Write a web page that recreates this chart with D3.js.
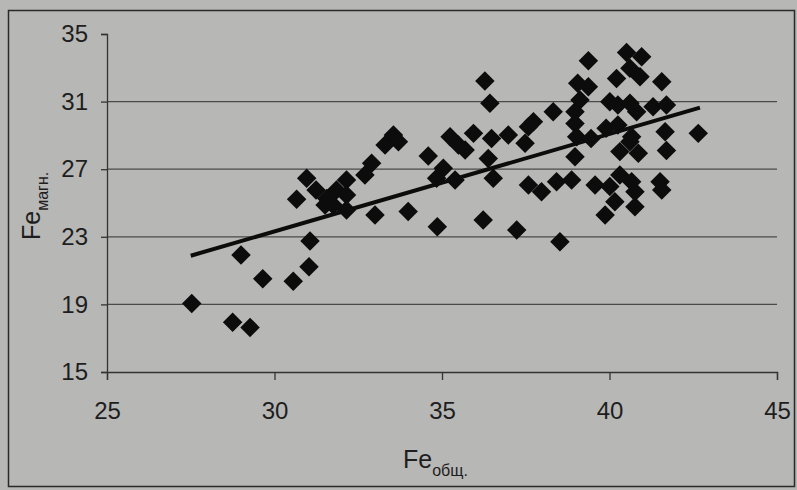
<!DOCTYPE html>
<html>
<head>
<meta charset="utf-8">
<script src="https://cdn.jsdelivr.net/npm/d3@7"></script>
<style>
  body { margin: 0; background: #b7b7b5; }
  svg { display: block; }
  text { font-family: "Liberation Sans", Arial, sans-serif; fill: #1e1e1e; }
</style>
</head>
<body>
<div id="chart"></div>
<script>
// Fe total vs Fe magnetic
var feTotal = [27.53, 28.75, 29.27, 29.0, 29.65, 30.56, 31.03, 31.06, 30.66, 30.96,
  31.24, 31.56, 31.51, 31.85, 32.15, 32.15, 31.75, 32.15, 32.7, 32.9,
  33.3, 33.55, 33.7, 33.0, 33.99, 34.59, 34.86, 35.04, 34.84, 35.39,
  35.24, 35.49, 35.69, 35.94, 36.28, 36.43, 36.48, 36.38, 36.53, 36.23,
  36.98, 37.58, 37.73, 37.48, 37.58, 37.97, 37.23, 38.32, 38.42, 38.87,
  38.52, 38.97, 39.05, 39.37, 39.37, 39.12, 38.97, 38.97, 39.02, 39.45,
  39.57, 39.87, 39.9, 40.01, 40.25, 40.61, 40.81, 41.3, 41.7, 40.25,
  40.66, 41.66, 42.65, 40.21, 40.61, 40.91, 41.56, 40.51, 40.96, 40.31,
  40.86, 41.7, 40.61, 40.31, 40.01, 40.66, 40.76, 40.16, 40.76, 41.51,
  41.56];
var feMagn = [19.06, 17.94, 17.64, 21.92, 20.52, 20.37, 21.23, 22.75, 25.22, 26.46,
  25.77, 25.27, 24.88, 25.77, 26.36, 25.47, 24.88, 24.59, 26.66, 27.35,
  28.43, 29.02, 28.63, 24.29, 24.49, 27.78, 23.6, 27.05, 26.46, 26.36,
  28.92, 28.43, 28.14, 29.12, 32.22, 30.9, 28.82, 27.63, 26.46, 24.0,
  29.02, 29.51, 29.81, 28.53, 26.07, 25.67, 23.4, 30.4, 26.26, 26.36,
  22.71, 27.74, 32.08, 33.42, 31.88, 31.1, 30.4, 29.71, 28.92, 28.82,
  26.07, 24.29, 29.42, 30.99, 30.8, 30.9, 30.4, 30.7, 30.8, 29.62,
  28.92, 29.22, 29.12, 32.37, 32.97, 32.47, 32.18, 33.9, 33.66, 28.04,
  27.94, 28.1, 28.63, 26.66, 25.97, 26.26, 25.67, 25.08, 24.78, 26.26,
  25.77];
var trendX = [27.5, 42.7];
var trendY = [21.88, 30.64];
var xTicks = [25, 30, 35, 40, 45];
var yTicks = [15, 19, 23, 27, 31, 35];

const W = 797, H = 490;
const plotLeft = 107, plotRight = 777, plotTop = 34, plotBottom = 372;

var svg = d3.select('#chart').append('svg')
    .attr('width', W)
    .attr('height', H);

// outer frame of the photographed chart
svg.append('rect')
  .attr('x', 8.5).attr('y', 10.5)
  .attr('width', 786).attr('height', 476)
  .attr('fill', 'none')
  .attr('stroke', '#2a2a2a')
  .attr('stroke-width', 1.5);

var x = d3.scaleLinear().domain([25, 45]).range([plotLeft, plotRight]);
var y = d3.scaleLinear().domain([15, 35]).range([plotBottom, plotTop]);

// horizontal grid
svg.append('g')
  .selectAll('line')
  .data(yTicks.filter(function (d) { return d > 15 && d < 35; }))
  .enter()
  .append('line')
  .attr('x1', plotLeft).attr('x2', plotRight)
  .attr('y1', function (d) { return y(d); })
  .attr('y2', function (d) { return y(d); })
  .attr('stroke', '#4a4a4a')
  .attr('stroke-width', 1.3);

var xAxis = svg.append('g')
    .attr('transform', `translate(0, ${plotBottom})`)
    .call(d3.axisBottom(x).tickValues(xTicks).tickSize(8).tickPadding(22));

var yAxis = svg.append('g')
    .attr('transform', `translate(${plotLeft}, 0)`)
    .call(d3.axisLeft(y).tickValues(yTicks).tickSize(6).tickPadding(13));

[xAxis, yAxis].forEach(function (a) {
  a.select('.domain').attr('stroke', '#333').attr('stroke-width', 1.3);
  a.selectAll('.tick line').attr('stroke', '#333').attr('stroke-width', 1.3);
  a.selectAll('.tick text')
    .style('font-size', '24px')
    .attr('fill', '#1e1e1e')
    .style('font-family', '"Liberation Sans", Arial, sans-serif');
});

// points
var diamond = d3.symbol().type(d3.symbolSquare).size(190);
svg.append('g')
  .selectAll('path')
  .data(feTotal.map(function (d, i) { return [d, feMagn[i]]; }))
  .enter()
  .append('path')
  .attr('d', diamond)
  .attr('transform', function (d) {
    return `translate(${x(d[0])}, ${y(d[1])}) rotate(45)`;
  })
  .attr('fill', '#0c0c0c');

// trend line
var line = d3.line()
    .x(function (d) { return x(d[0]); })
    .y(function (d) { return y(d[1]); });

svg.append('path')
  .datum(trendX.map(function (d, i) { return [d, trendY[i]]; }))
  .attr('d', line)
  .attr('fill', 'none')
  .attr('stroke', '#0c0c0c')
  .attr('stroke-width', 4);

// axis titles
var xt = svg.append('text')
    .attr('x', 403)
    .attr('y', 468)
    .attr('text-anchor', 'start')
    .style('font-size', '25px');
xt.append('tspan').text('Fe');
xt.append('tspan').attr('dy', 8).style('font-size', '16px').text('общ.');

var yt = svg.append('text')
    .attr('transform', 'translate(40, 240) rotate(-90)')
    .attr('text-anchor', 'start')
    .style('font-size', '25px');
yt.append('tspan').text('Fe');
yt.append('tspan').attr('dy', 8).style('font-size', '16px').text('магн.');
</script>
</body>
</html>
